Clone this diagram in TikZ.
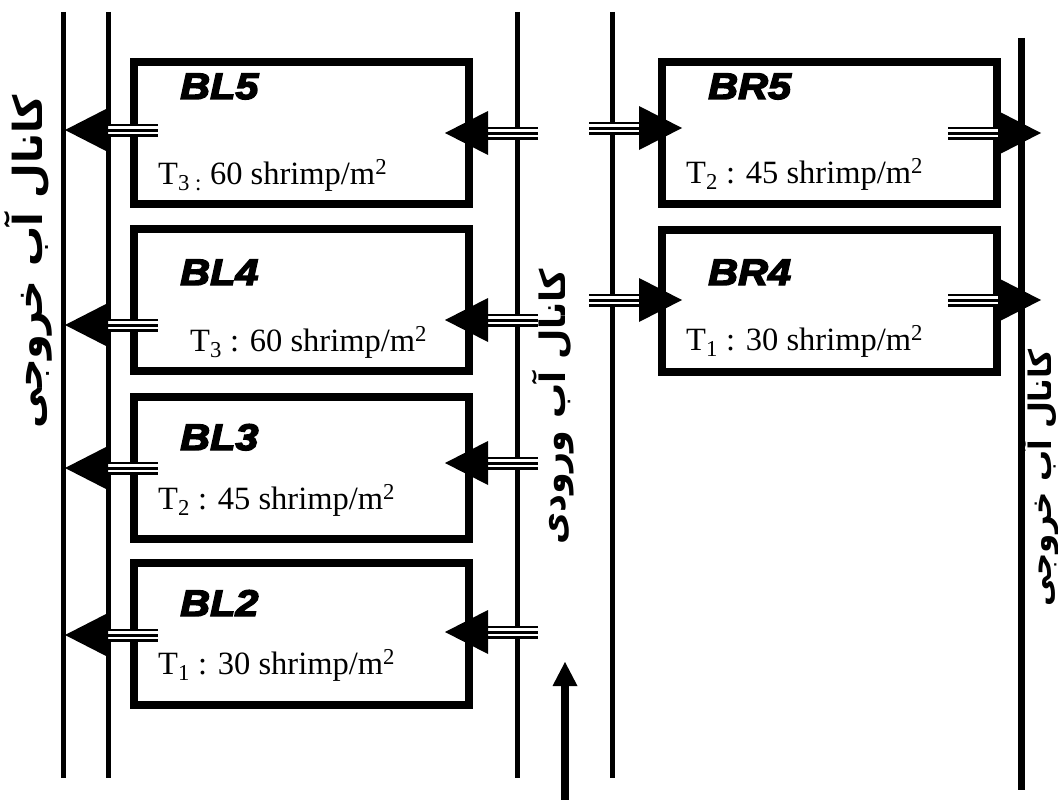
\documentclass[tikz,border=0pt]{standalone}
\usepackage{fontspec}
\setmainfont{Liberation Serif}
\newfontfamily\blfont[FakeBold=4,FakeStretch=1.12]{Liberation Sans}
\newfontfamily\fafont[Script=Arabic]{DejaVu Sans}
\TeXXeTstate=1
\usetikzlibrary{calc}
\begin{document}
\begin{tikzpicture}[x=1pt,y=-1pt,
  chan/.style={line width=5pt},
  pond/.style={draw, line width=8pt, rectangle, inner sep=0pt, minimum width=335pt, minimum height=142pt},
  blabel/.style={font=\blfont\fontsize{37}{37}\selectfont\bfseries\itshape, anchor=base west, inner sep=0pt},
  tlabel/.style={font=\fontsize{32.5}{32.5}\selectfont, anchor=base west, inner sep=0pt},
  fatext/.style={font=\fafont\bfseries\fontsize{#1}{#1}\selectfont, rotate=90, inner sep=0pt},
  triple/.style={line width=13pt, postaction={draw=white, line width=8pt}, postaction={draw=black, line width=3pt}},
  flow/.pic={
    \draw[triple] (40,0) -- (93,0);
    \fill (0,0) -- (43,-22) -- (43,22) -- cycle;
  }
]
\useasboundingbox (0,0) rectangle (1058,800);

% channels
\coordinate (c1t) at (63,12);   \coordinate (c1b) at (63,778);
\coordinate (c2t) at (108,12);  \coordinate (c2b) at (108,778);
\coordinate (c3t) at (517,12);  \coordinate (c3b) at (517,778);
\coordinate (c4t) at (612,12);  \coordinate (c4b) at (612,778);
\coordinate (c5t) at (1021,38); \coordinate (c5b) at (1021,790);
\draw[chan] (c1t) -- (c1b);
\draw[chan] (c2t) -- (c2b);
\draw[chan] (c3t) -- (c3b);
\draw[chan] (c4t) -- (c4b);
\draw[line width=7pt] (c5t) -- (c5b);

% ponds
\node[pond] (BL5) at (301.5,133) {};
\node[pond] (BL4) at (301.5,300) {};
\node[pond] (BL3) at (301.5,468) {};
\node[pond] (BL2) at (301.5,634) {};
\node[pond] (BR5) at (829,133) {};
\node[pond] (BR4) at (829,301) {};

% labels
\node[blabel] (bl5) at (180,99) {BL5};
\node[tlabel] (t5) at (158,184) {T\textsubscript{3 :} 60 shrimp/m\textsuperscript{2}};
\node[blabel] (bl4) at (180,285) {BL4};
\node[tlabel] (t4) at (190,351) {T\textsubscript{3} : 60 shrimp/m\textsuperscript{2}};
\node[blabel] (bl3) at (180,450) {BL3};
\node[tlabel] (t3) at (158,509) {T\textsubscript{2} : 45 shrimp/m\textsuperscript{2}};
\node[blabel] (bl2) at (180,616) {BL2};
\node[tlabel] (t2) at (158,674) {T\textsubscript{1} : 30 shrimp/m\textsuperscript{2}};
\node[blabel] (br5) at (708,99) {BR5};
\node[tlabel] (tr5) at (686,183) {T\textsubscript{2} : 45 shrimp/m\textsuperscript{2}};
\node[blabel] (br4) at (708,285) {BR4};
\node[tlabel] (tr4) at (686,350) {T\textsubscript{1} : 30 shrimp/m\textsuperscript{2}};

% flow arrows: tips
\coordinate (a5l) at (65,130);  \coordinate (a5m) at (445,133);
\coordinate (a4l) at (65,325);  \coordinate (a4m) at (445,320);
\coordinate (a3l) at (65,468);  \coordinate (a3m) at (445,463);
\coordinate (a2l) at (65,635);  \coordinate (a2m) at (445,632);
\coordinate (r5l) at (682,128); \coordinate (r5r) at (1041,133);
\coordinate (r4l) at (682,300); \coordinate (r4r) at (1041,300);
\foreach \c in {a5l,a5m,a4l,a4m,a3l,a3m,a2l,a2m}{\pic at (\c) {flow};}
\foreach \c in {r5l,r5r,r4l,r4r}{\pic[xscale=-1] at (\c) {flow};}

% inflow arrow
\coordinate (inS) at (565,800);
\coordinate (inT) at (565,662);
\draw[line width=8pt] (inS) -- ($(inT)+(0,20)$);
\fill (inT) -- ++(-12.5,24) -- ++(25,0) -- cycle;

% channel names
\node[fatext=40] (out1) at (28,262) {\beginR کانال آب خروجی\endR};
\node[fatext=35] (in1) at (553,407) {\beginR کانال آب ورودی\endR};
\node[fatext=31] (out2) at (1040,478) {\beginR کانال آب خروجی\endR};
\end{tikzpicture}
\end{document}
